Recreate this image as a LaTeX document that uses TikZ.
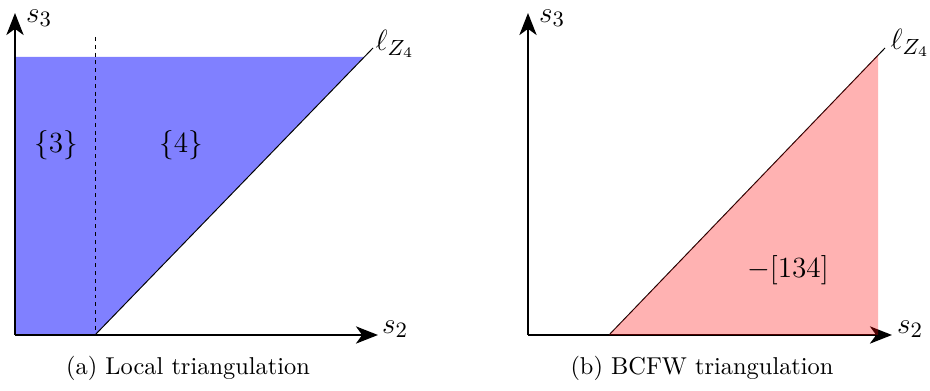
\documentclass[tikz,border=0pt]{standalone}
\usetikzlibrary{arrows.meta}
\begin{document}
\begin{tikzpicture}[x=0.41pt,y=-0.41pt,
  axis/.style={line width=1.2pt,-{Stealth[length=9pt,width=7pt,inset=2.5pt]}},
  lzline/.style={line width=0.4pt},
  guide/.style={line width=0.4pt,dash pattern=on 1.6pt off 1.6pt},
  lbl/.style={inner sep=0pt,font=\fontsize{12.8}{15}\selectfont}]
\useasboundingbox (0,0) rectangle (930,391);
% ---------- panel (a)
\coordinate (oa) at (15,335);
\coordinate (ya) at (15,13);
\coordinate (xa) at (378,335);
\coordinate (la1) at (95,335);
\coordinate (la2) at (373,48);
\coordinate (da) at (95,37);
\fill[blue!50] (oa) -- (la1) -- (364,57) -- (15,57) -- cycle;
\draw[guide] (da) -- (la1);
\draw[lzline] (la1) -- (la2);
\draw[axis] (oa) -- (ya);
\draw[axis] (oa) -- (xa);
\node[lbl] (s3a) at (39,18) {$s_3$};
\node[lbl] (s2a) at (395,329) {$s_2$};
\node[lbl] (lza) at (395,44) {$\ell_{Z_4}$};
\node[lbl] (r3) at (56,145) {$\{3\}$};
\node[lbl] (r4) at (181,145) {$\{4\}$};
\node (capa) at (188,368) {(a) Local triangulation};
% ---------- panel (b)
\coordinate (ob) at (528,335);
\coordinate (yb) at (528,13);
\coordinate (xb) at (892,335);
\coordinate (lb1) at (609,335);
\coordinate (lb2) at (885,48);
\draw[lzline] (lb1) -- (lb2);
\draw[axis] (ob) -- (yb);
\draw[axis] (ob) -- (xb);
\fill[red,opacity=0.3] (lb1) -- (878,335) -- (878,55) -- cycle;
\node[lbl] (s3b) at (552,18) {$s_3$};
\node[lbl] (s2b) at (910,329) {$s_2$};
\node[lbl] (lzb) at (910,43) {$\ell_{Z_4}$};
\node[lbl] (r134) at (788,270) {$-[134]$};
\node (capb) at (702,368) {(b) BCFW triangulation};
\end{tikzpicture}
\end{document}
